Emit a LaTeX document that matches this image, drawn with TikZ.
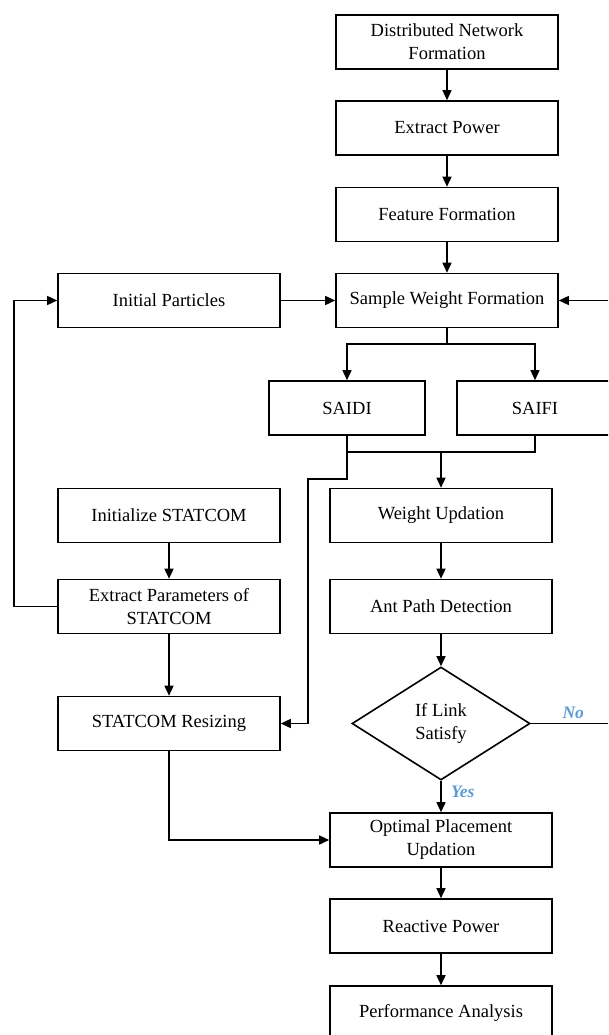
\documentclass[tikz,border=0pt]{standalone}
\usepackage{fontspec}
\setmainfont{Liberation Serif}
\usetikzlibrary{arrows.meta,shapes.geometric}
\definecolor{lblblue}{HTML}{5B9BD5}
\begin{document}
\begin{tikzpicture}[x=1pt,y=-1pt,
  box/.style={draw=black,line width=1.6pt,minimum width=222pt,minimum height=54pt,inner sep=2pt,
    align=center,font=\fontsize{18.5}{23}\selectfont,fill=white},
  sbox/.style={box,minimum width=156pt},
  dia/.style={draw=black,line width=1.6pt,shape=diamond,minimum width=178pt,minimum height=113pt,inner sep=0pt,
    align=center,font=\fontsize{18.5}{23}\selectfont},
  arr/.style={line width=1.5pt,-{Triangle[length=10pt,width=9pt]}},
  ln/.style={line width=1.5pt},
  lbl/.style={font=\fontsize{17.5}{20}\selectfont\bfseries\itshape,text=lblblue}]
\useasboundingbox (0,0) rectangle (608,1035);
\clip (0,0) rectangle (608,1035);
\node[box] (dnf) at (447,42) {Distributed Network\\Formation};
\node[box] (ep) at (447,128) {Extract Power};
\node[box] (ff) at (447,214.5) {Feature Formation};
\node[box] (swf) at (447,300.5) {Sample Weight Formation};
\node[box] (ip) at (169,300.5) {Initial Particles};
\node[sbox] (saidi) at (347,408) {SAIDI};
\node[sbox] (saifi) at (535,408) {SAIFI};
\node[box] (is) at (169,515.5) {Initialize STATCOM};
\node[box] (eps) at (169,606.5) {Extract Parameters of\\STATCOM};
\node[box] (sr) at (169,723.5) {STATCOM Resizing};
\node[box] (wu) at (441,515.5) {Weight Updation};
\node[box] (apd) at (441,606.5) {Ant Path Detection};
\node[dia] (ifl) at (441,723.5) {If Link\\Satisfy};
\node[box] (opu) at (441,840) {Optimal Placement\\Updation};
\node[box] (rp) at (441,926) {Reactive Power};
\node[box] (pa) at (441,1013) {Performance Analysis};
\coordinate (rin) at (608,300.5);
\coordinate (rout) at (608,723.5);
\coordinate (split) at (447,344);
\coordinate (join) at (441,452);
\draw[arr] (dnf) -- (ep);
\draw[arr] (ep) -- (ff);
\draw[arr] (ff) -- (swf);
\draw[arr] (ip) -- (swf);
\draw[arr] (rin) -- (swf.east);
\draw[ln] (swf.south) -- (split);
\draw[arr] (split) -| (saidi.north);
\draw[arr] (split) -| (saifi.north);
\draw[ln] (saidi.south) |- (join);
\draw[ln] (saifi.south) |- (join);
\draw[arr] (join) -- (wu.north);
\draw[arr] (saidi.south) -- ++(0,43) -- ++(-39,0) |- (sr.east);
\draw[arr] (is) -- (eps);
\draw[arr] (eps.west) -- (14,606.5) |- (ip.west);
\draw[arr] (eps) -- (sr);
\draw[arr] (sr.south) |- (opu.west);
\draw[arr] (wu) -- (apd);
\draw[arr] (apd) -- (ifl.north);
\draw[arr] (ifl.south) -- node[lbl,right=6pt,pos=0.35] {Yes} (opu.north);
\draw[ln] (ifl.east) -- node[lbl,above=1pt,pos=0.55] {No} (rout);
\draw[arr] (opu) -- (rp);
\draw[arr] (rp) -- (pa);
\end{tikzpicture}
\end{document}
